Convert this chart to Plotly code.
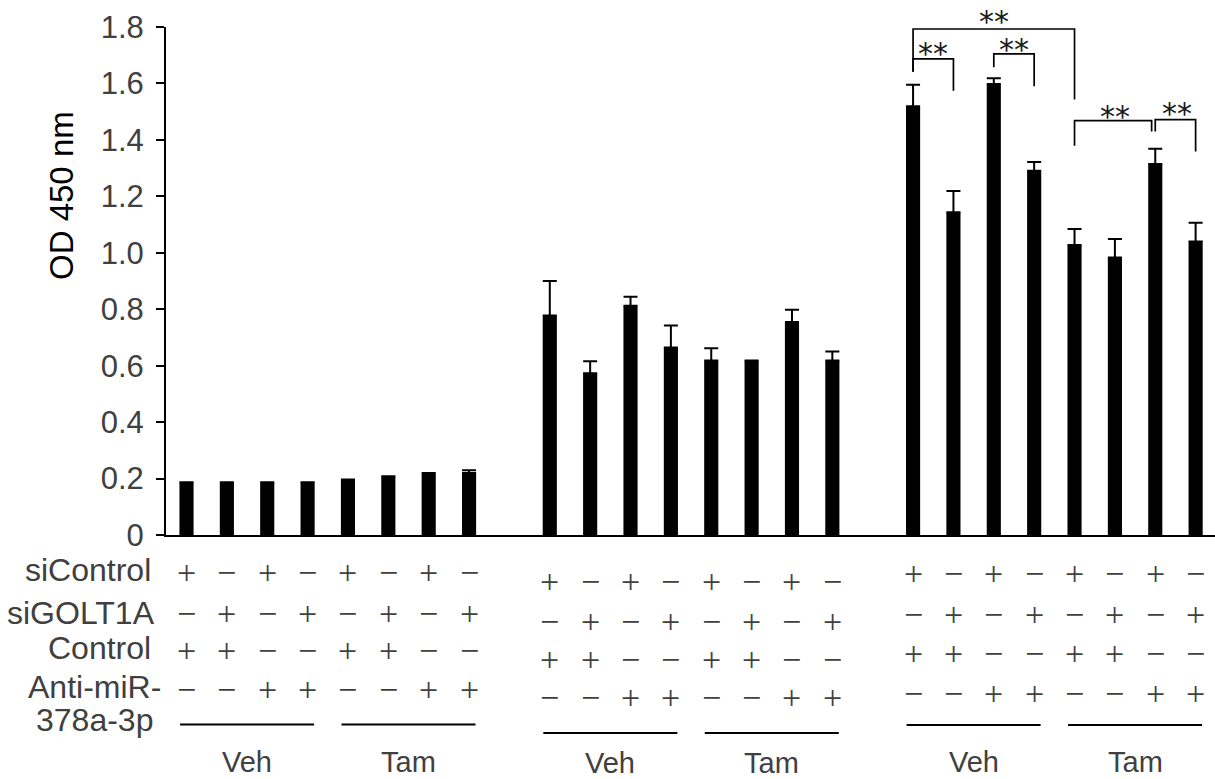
import plotly.graph_objects as go

# ---------------- data ----------------
group_names = ["Veh", "Tam"]
row_labels = ["siControl", "siGOLT1A", "Control", "Anti-miR-", "378a-3p"]
siControl = ["+", "−", "+", "−", "+", "−", "+", "−"]
siGOLT1A = ["−", "+", "−", "+", "−", "+", "−", "+"]
control = ["+", "+", "−", "−", "+", "+", "−", "−"]
anti_mir = ["−", "−", "+", "+", "−", "−", "+", "+"]

group1_vals = [0.187, 0.187, 0.187, 0.187, 0.197, 0.208, 0.220, 0.220]
group1_err = [0, 0, 0, 0, 0, 0, 0, 0.009]
group2_vals = [0.778, 0.573, 0.812, 0.664, 0.618, 0.618, 0.755, 0.618]
group2_err = [0.122, 0.043, 0.032, 0.078, 0.044, 0.0, 0.043, 0.032]
group3_vals = [1.519, 1.144, 1.598, 1.291, 1.028, 0.983, 1.315, 1.040]
group3_err = [0.076, 0.075, 0.020, 0.031, 0.056, 0.066, 0.054, 0.066]

y_ticks = [0, 0.2, 0.4, 0.6, 0.8, 1.0, 1.2, 1.4, 1.6, 1.8]
y_ticktext = ["0", "0.2", "0.4", "0.6", "0.8", "1.0", "1.2", "1.4", "1.6", "1.8"]

# significance brackets: (left bar, right bar, left foot, top, right foot, right offset)
brackets = [
    (18, 22, 1.641, 1.793, 1.543, 0.0),
    (18, 19, 1.641, 1.687, 1.574, 0.0),
    (20, 21, 1.657, 1.705, 1.590, 0.0),
    (22, 24, 1.379, 1.468, 1.430, -0.09),
    (24, 25, 1.430, 1.472, 1.359, 0.0),
]
star_pos = [(20.0, 1.844), (18.5, 1.732), (20.5, 1.746), (23.0, 1.507), (24.55, 1.517)]

# ---------------- layout constants ----------------
W, H = 1215, 779
PX_L, PX_R, PX_T, PX_B = 166, 1215, 27, 535
X_RANGE = [-0.508, 25.48]
Y_RANGE = [0, 1.8]
GROUP_STEP = 9
FONT = "Liberation Sans, Arial, sans-serif"
SERIF = "Liberation Serif, Times New Roman, serif"
GREY = "#404040"


def py2p(py):
    return (PX_B - py) / (PX_B - PX_T)


def px2p(px):
    return (px - PX_L) / (PX_R - PX_L)


def y2p(v):
    return (v - Y_RANGE[0]) / (Y_RANGE[1] - Y_RANGE[0])


all_vals = [group1_vals, group2_vals, group3_vals]
all_errs = [group1_err, group2_err, group3_err]

xs, ys, es = [], [], []
for g, (vals, errs) in enumerate(zip(all_vals, all_errs)):
    for i, (v, e) in enumerate(zip(vals, errs)):
        xs.append(g * GROUP_STEP + i)
        ys.append(v)
        es.append(e)

fig = go.Figure()
fig.add_trace(go.Bar(
    x=xs, y=ys, width=0.35,
    marker=dict(color="black", line=dict(width=0)),
    error_y=dict(type="data", symmetric=False, array=es, arrayminus=[0] * len(es),
                 color="black", thickness=2, width=7),
    showlegend=False, hoverinfo="skip",
))

# brackets
for (a, b, lf, top, rf, off) in brackets:
    fig.add_shape(type="path",
                  path=f"M {a},{lf} L {a},{top} L {b + off},{top} L {b + off},{rf}",
                  xref="x", yref="y", line=dict(color="black", width=1.7))

annotations = []
for (sx, sy) in star_pos:
    annotations.append(dict(x=sx, y=y2p(sy), xref="x", yref="paper", text="**", showarrow=False,
                            font=dict(family="DejaVu Sans, sans-serif", size=30, color="#1a1a1a"),
                            xanchor="center", yanchor="middle", yshift=-7))

# sign rows
rows = [siControl, siGOLT1A, control, anti_mir]
row_y = [[572, 613.5, 650, 689], [581, 621, 659, 698], [573, 614.5, 653, 693]]
line_y = [724.5, 733, 725]
lab_y = [762, 763, 762]
for g in range(3):
    for r, row in enumerate(rows):
        for i, s in enumerate(row):
            annotations.append(dict(x=g * GROUP_STEP + i, y=py2p(row_y[g][r]), xref="x", yref="paper",
                                    text=s, showarrow=False,
                                    font=dict(family=SERIF, size=34, color=GREY),
                                    xanchor="center", yanchor="middle"))
    for k, name in enumerate(group_names):
        c = g * GROUP_STEP + 4 * k + 1.5
        fig.add_shape(type="line", x0=c - 1.66, x1=c + 1.66, y0=py2p(line_y[g]), y1=py2p(line_y[g]),
                      xref="x", yref="paper", line=dict(color="black", width=2))
        annotations.append(dict(x=c, y=py2p(lab_y[g]), xref="x", yref="paper", text=name,
                                showarrow=False, font=dict(family=FONT, size=29, color=GREY),
                                xanchor="center", yanchor="middle"))

label_pos = [(153, 570), (157, 613), (153, 648), (163, 687), (155, 720)]
for lab, (lx, ly) in zip(row_labels, label_pos):
    annotations.append(dict(x=px2p(lx), y=py2p(ly), xref="paper", yref="paper", text=lab,
                            showarrow=False, font=dict(family=FONT, size=32, color=GREY),
                            xanchor="right", yanchor="middle"))

annotations.append(dict(x=px2p(62), y=py2p(196), xref="paper", yref="paper", text="OD 450 nm",
                        textangle=-90, showarrow=False,
                        font=dict(family=FONT, size=33, color="black"),
                        xanchor="center", yanchor="middle"))

fig.update_layout(
    width=W, height=H,
    margin=dict(l=PX_L, r=W - PX_R, t=PX_T, b=H - PX_B, pad=0),
    paper_bgcolor="white", plot_bgcolor="white",
    annotations=annotations,
    xaxis=dict(range=X_RANGE, showline=True, linecolor="black", linewidth=2,
               showticklabels=False, ticks="", showgrid=False, zeroline=False, fixedrange=True),
    yaxis=dict(range=Y_RANGE, showline=True, linecolor="black", linewidth=2,
               tickvals=y_ticks, ticktext=y_ticktext, ticks="outside", ticklen=8, tickwidth=2,
               tickcolor="black", tickfont=dict(family=FONT, size=31, color=GREY),
               showgrid=False, zeroline=False, ticklabelstandoff=6),
)

fig.write_html("out.html")
